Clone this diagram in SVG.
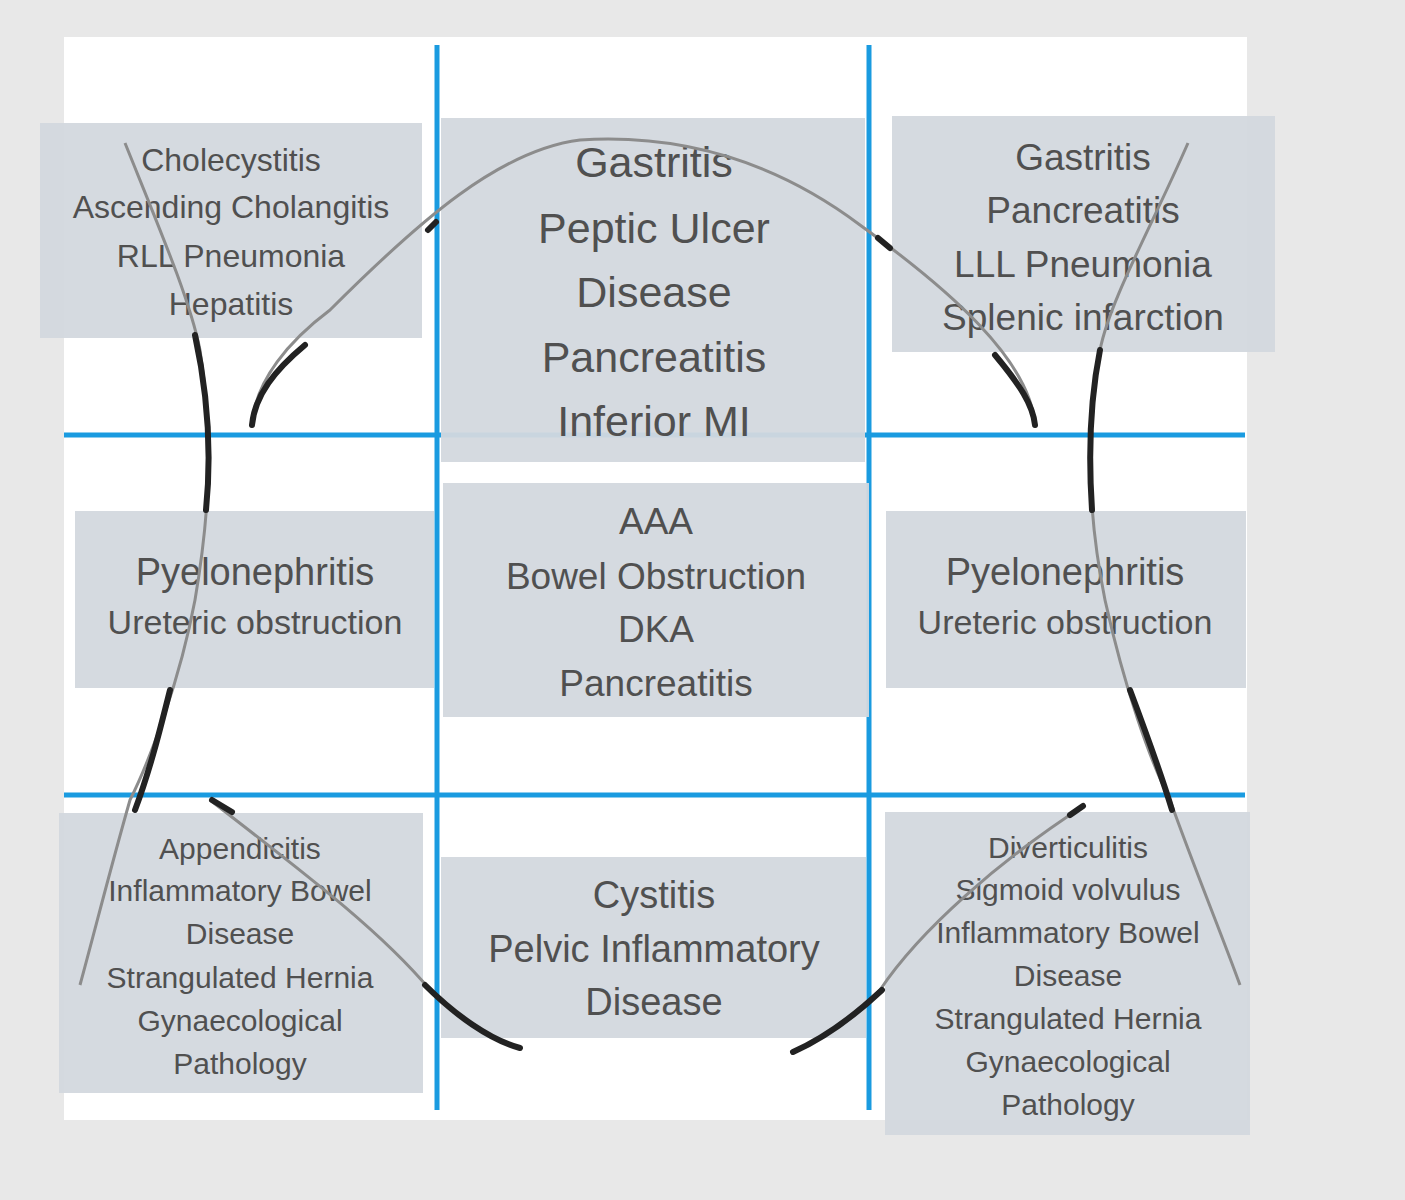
<svg xmlns="http://www.w3.org/2000/svg" width="1405" height="1200" viewBox="0 0 1405 1200">
<style>
.box{fill:#d3d8de;opacity:0.95}
.t{font-family:"Liberation Sans",Arial,sans-serif;fill:#505050;text-anchor:middle}
.blue{stroke:#1a9be0;stroke-width:5;fill:none}
.g{stroke:#8c8c8c;stroke-width:3;fill:none}
.k{stroke:#222;stroke-width:6;fill:none;stroke-linecap:round}
</style>
<rect width="1405" height="1200" fill="#e8e8e8"/>
<rect x="64" y="37" width="1183" height="1083" fill="#fff"/>
<g id="grid">
<line class="blue" x1="437" y1="45" x2="437" y2="1110"/>
<line class="blue" x1="869" y1="45" x2="869" y2="1110"/>
<line class="blue" x1="64" y1="435" x2="1245" y2="435"/>
<line class="blue" x1="64" y1="795" x2="1245" y2="795"/>
</g>
<g id="n1"><rect class="box" x="40" y="123" width="382" height="215"/>
<text class="t" font-size="32"><tspan x="231" y="171">Cholecystitis</tspan><tspan x="231" y="218">Ascending Cholangitis</tspan><tspan x="231" y="267">RLL Pneumonia</tspan><tspan x="231" y="315">Hepatitis</tspan></text></g>
<g id="n2"><rect class="box" x="441" y="118" width="424" height="344"/>
<text class="t" font-size="43"><tspan x="654" y="177">Gastritis</tspan><tspan x="654" y="243">Peptic Ulcer</tspan><tspan x="654" y="307">Disease</tspan><tspan x="654" y="372">Pancreatitis</tspan><tspan x="654" y="436">Inferior MI</tspan></text></g>
<g id="n3"><rect class="box" x="892" y="116" width="383" height="236"/>
<text class="t" font-size="37"><tspan x="1083" y="170">Gastritis</tspan><tspan x="1083" y="223">Pancreatitis</tspan><tspan x="1083" y="277">LLL Pneumonia</tspan><tspan x="1083" y="330">Splenic infarction</tspan></text></g>
<g id="n4"><rect class="box" x="75" y="511" width="359" height="177"/>
<text class="t"><tspan x="255" y="585" font-size="38">Pyelonephritis</tspan><tspan x="255" y="634" font-size="34">Ureteric obstruction</tspan></text></g>
<g id="n5"><rect class="box" x="443" y="483" width="426" height="234"/>
<text class="t" font-size="37"><tspan x="656" y="534">AAA</tspan><tspan x="656" y="589">Bowel Obstruction</tspan><tspan x="656" y="642">DKA</tspan><tspan x="656" y="696">Pancreatitis</tspan></text></g>
<g id="n6"><rect class="box" x="886" y="511" width="360" height="177"/>
<text class="t"><tspan x="1065" y="585" font-size="38">Pyelonephritis</tspan><tspan x="1065" y="634" font-size="34">Ureteric obstruction</tspan></text></g>
<g id="n7"><rect class="box" x="59" y="813" width="364" height="280"/>
<text class="t" font-size="30"><tspan x="240" y="859">Appendicitis</tspan><tspan x="240" y="901">Inflammatory Bowel</tspan><tspan x="240" y="944">Disease</tspan><tspan x="240" y="988">Strangulated Hernia</tspan><tspan x="240" y="1031">Gynaecological</tspan><tspan x="240" y="1074">Pathology</tspan></text></g>
<g id="n8"><rect class="box" x="441" y="857" width="425" height="181"/>
<text class="t" font-size="38"><tspan x="654" y="908">Cystitis</tspan><tspan x="654" y="962">Pelvic Inflammatory</tspan><tspan x="654" y="1015">Disease</tspan></text></g>
<g id="n9"><rect class="box" x="885" y="812" width="365" height="323"/>
<text class="t" font-size="30"><tspan x="1068" y="858">Diverticulitis</tspan><tspan x="1068" y="900">Sigmoid volvulus</tspan><tspan x="1068" y="943">Inflammatory Bowel</tspan><tspan x="1068" y="986">Disease</tspan><tspan x="1068" y="1029">Strangulated Hernia</tspan><tspan x="1068" y="1072">Gynaecological</tspan><tspan x="1068" y="1115">Pathology</tspan></text></g>
<g id="outline">
<path class="g" d="M125,143 C160,230 190,300 200,350 C212,430 212,500 195,600 C180,680 150,760 130,800 C110,870 95,930 80,985"/>
<path class="g" d="M1188,143 C1150,230 1110,300 1100,350 C1088,430 1085,500 1105,600 C1125,690 1150,760 1170,800 C1195,870 1220,930 1240,985"/>
<path class="g" d="M252,425 C255,380 290,340 330,310 C420,220 500,150 580,140 C660,135 760,150 860,225 C950,290 1030,360 1035,425"/>
<path class="g" d="M210,800 C300,870 380,930 430,990 C460,1020 490,1040 520,1048"/>
<path class="g" d="M1085,805 C1000,860 920,930 880,990 C850,1020 820,1040 793,1052"/>
<path class="k" d="M195,335 C207,390 212,450 206,510"/>
<path class="k" d="M170,690 C160,730 150,770 135,810"/>
<path class="k" d="M1100,350 C1090,400 1088,450 1092,510"/>
<path class="k" d="M1130,690 C1145,730 1160,770 1172,810"/>
<path class="k" d="M305,345 C275,370 255,395 252,425"/>
<path class="k" d="M878,238 L890,248"/>
<path class="k" d="M428,230 L436,222"/>
<path class="k" d="M995,355 C1020,385 1033,405 1035,425"/>
<path class="k" d="M212,800 L232,812"/>
<path class="k" d="M425,985 C455,1015 490,1040 520,1048"/>
<path class="k" d="M1083,806 L1070,815"/>
<path class="k" d="M882,990 C850,1020 820,1040 793,1052"/>
</g>
</svg>
